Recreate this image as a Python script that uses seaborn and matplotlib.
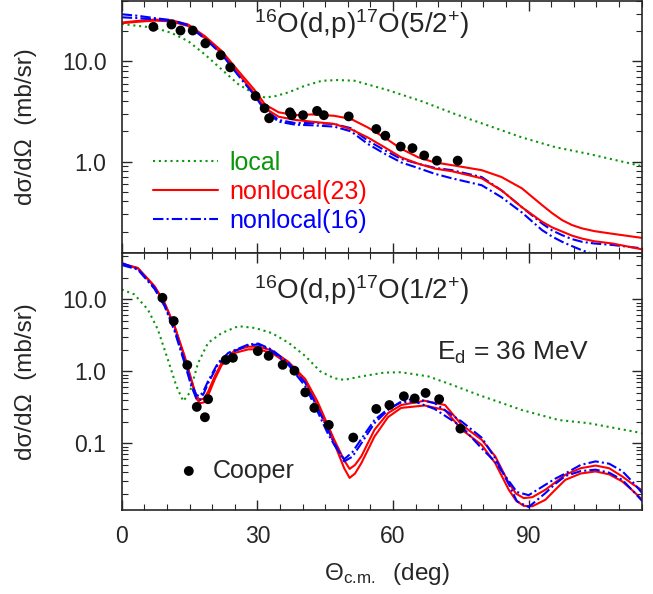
import numpy as np
import pandas as pd
import matplotlib
matplotlib.use("Agg")
import matplotlib.pyplot as plt
import seaborn as sns
from matplotlib.ticker import FixedLocator, FuncFormatter, LogLocator, MultipleLocator, NullFormatter

# ---------------- data: 16O(d,p)17O(5/2+) ----------------
top_exp_deg = [7.0, 11.0, 13.0, 15.7, 18.5, 21.9, 24.0, 29.6, 31.6, 32.6, 37.2, 37.6,
               40.1, 43.2, 44.7, 50.2, 56.3, 58.3, 61.7, 64.3, 66.9, 69.7, 74.3]
top_exp_xs = [22.1, 23.3, 20.3, 20.3, 15.1, 11.5, 8.7, 4.5, 3.4, 2.7, 3.1, 2.9,
              2.9, 3.2, 2.9, 2.82, 2.11, 1.81, 1.41, 1.36, 1.15, 1.02, 1.02]

top_local_deg = [0, 7.3, 11, 14.7, 18.4, 22.1, 25.8, 29.5, 31.7, 34, 36.9, 40.5, 44.3,
                 47.8, 51.5, 58.9, 66.3, 73.7, 81.1, 88.5, 95.9, 103.3, 115]
top_local_xs = [23.6, 21.6, 19.2, 15.9, 11.7, 8.3, 5.9, 4.7, 4.35, 4.5, 4.9, 5.7, 6.4,
                6.5, 6.4, 5.15, 4.0, 2.98, 2.28, 1.74, 1.39, 1.19, 0.90]

top_nl_deg = [0, 3.5, 7.3, 11, 14.7, 18.4, 22.1, 25.8, 29.5, 31.7, 34.7, 38.4, 42, 47,
              50.7, 54.4, 58.1, 61.8, 65.6, 69.2, 73, 79.6, 84, 88.5, 93, 95.2, 97.4,
              99.6, 101.8, 104.5, 108.5, 115]
top_nl23_a = [24.4, 25.3, 26.1, 25.7, 23.3, 17.8, 12.7, 8.0, 5.1, 3.7, 3.1, 2.9, 2.95,
              2.86, 2.66, 2.19, 1.74, 1.34, 1.1, 0.98, 0.92, 0.82, 0.70, 0.54, 0.366,
              0.305, 0.26, 0.232, 0.215, 0.202, 0.19, 0.173]
top_nl23_b = [24.0, 24.8, 25.5, 25.0, 22.5, 17.0, 12.0, 7.5, 4.7, 3.4, 2.8, 2.6, 2.5,
              2.37, 2.1, 1.74, 1.39, 1.1, 0.95, 0.85, 0.80, 0.68, 0.515, 0.35, 0.25,
              0.22, 0.20, 0.182, 0.17, 0.16, 0.152, 0.133]
top_nl16_a = [29.5, 28.5, 27.0, 25.8, 23.0, 17.0, 12.0, 7.4, 4.6, 3.3, 2.6, 2.42, 2.42,
              2.37, 2.15, 1.62, 1.3, 1.06, 0.95, 0.865, 0.82, 0.70, 0.515, 0.35, 0.24,
              0.205, 0.184, 0.168, 0.158, 0.152, 0.147, 0.136]
top_nl16_b = [27.5, 27.0, 26.2, 25.5, 22.8, 16.8, 11.8, 7.2, 4.5, 3.2, 2.5, 2.33, 2.3,
              2.23, 2.0, 1.5, 1.2, 0.98, 0.86, 0.755, 0.68, 0.58, 0.44, 0.31, 0.206,
              0.178, 0.158, 0.143, 0.13, 0.118, 0.105, 0.09]

# ---------------- data: 16O(d,p)17O(1/2+) ----------------
bot_exp_deg = [9.0, 11.5, 14.5, 16.6, 18.4, 19.1, 23.0, 24.6, 30.1, 32.5, 35.6, 38.2,
               40.6, 42.6, 45.8, 51.2, 56.3, 59.2, 62.4, 64.8, 67.2, 70.2, 74.9]
bot_exp_xs = [10.5, 5.0, 1.22, 0.32, 0.23, 0.41, 1.44, 1.54, 1.91, 1.64, 1.23, 1.02,
              0.51, 0.31, 0.18, 0.12, 0.30, 0.34, 0.45, 0.42, 0.50, 0.41, 0.16]

bot_local_deg = [0, 2.8, 5.8, 8, 10.2, 12.1, 13.6, 15, 16.9, 19.1, 22.1, 25.8, 29.5,
                 33.2, 36.9, 40.6, 43.9, 47, 49.2, 53, 58.1, 61.8, 67.8, 73, 78.9, 88.5,
                 96.7, 103.3, 115.2]
bot_local_xs = [13.7, 11.7, 7.2, 3.8, 1.46, 0.62, 0.385, 0.5, 1.31, 2.49, 3.4, 4.24, 4.0,
                3.4, 2.49, 1.63, 1.0, 0.80, 0.76, 0.85, 0.96, 0.97, 0.85, 0.65, 0.47, 0.29,
                0.21, 0.19, 0.138]

bot_nl23_deg = [0, 3.55, 7.25, 9.5, 11.7, 13.9, 15.4, 16.5, 17.3, 18.2, 19.1, 20.6, 22.1,
                25, 28, 30.2, 33.2, 36.9, 40.6, 43.3, 47, 49.2, 50.4, 51.6, 53, 55.9, 58.9,
                61.8, 67, 71.5, 75.2, 79.6, 82.6, 85.6, 87.2, 88.9, 90.8, 93.7, 96, 98.1,
                101.5, 104.8, 107.8, 110.7, 113, 115.5]
bot_nl23_a = [31.4, 27.4, 15.3, 8.9, 4.24, 1.63, 0.77, 0.45, 0.40, 0.42, 0.52, 0.86, 1.31,
              1.95, 2.2, 2.2, 1.95, 1.35, 0.78, 0.38, 0.112, 0.058, 0.044, 0.05, 0.066,
              0.154, 0.263, 0.34, 0.39, 0.34, 0.18, 0.112, 0.066, 0.028, 0.020, 0.0173,
              0.0178, 0.0226, 0.029, 0.0365, 0.045, 0.049, 0.045, 0.0346, 0.027, 0.0214]
bot_nl23_b = [31.0, 27.0, 15.0, 8.7, 4.15, 1.58, 0.74, 0.42, 0.36, 0.37, 0.46, 0.78, 1.22,
              1.8, 2.02, 2.02, 1.8, 1.26, 0.72, 0.33, 0.10, 0.045, 0.033, 0.038, 0.053,
              0.124, 0.231, 0.31, 0.335, 0.29, 0.155, 0.095, 0.053, 0.0226, 0.016, 0.0135,
              0.0133, 0.0164, 0.023, 0.031, 0.038, 0.0406, 0.037, 0.0295, 0.022, 0.0156]

bot_nl16_deg = [0, 3.55, 7.25, 9.5, 11.7, 13.9, 15.4, 16.5, 17.3, 18.2, 19.1, 21.3, 23.6,
                28, 30.2, 33.2, 36.9, 40.6, 43.5, 45.5, 47, 49.2, 51, 53, 55.9, 58.9, 61.8,
                64.8, 69.2, 75.2, 79.6, 82.6, 85.6, 87.4, 90, 93.7, 95.8, 98.1, 101.5,
                104.8, 107.8, 110.7, 113, 115.5]
bot_nl16_a = [32, 26.5, 14.5, 8.3, 3.8, 1.4, 0.68, 0.47, 0.45, 0.55, 0.73, 1.31, 1.81,
              2.36, 2.43, 2.0, 1.3, 0.69, 0.295, 0.16, 0.10, 0.056, 0.065, 0.10, 0.19,
              0.29, 0.38, 0.42, 0.36, 0.2, 0.12, 0.062, 0.027, 0.0156, 0.013, 0.0203,
              0.027, 0.035, 0.041, 0.043, 0.039, 0.031, 0.022, 0.0148]
bot_nl16_b = [30, 26, 14.0, 8.0, 3.6, 1.3, 0.62, 0.42, 0.4, 0.5, 0.68, 1.25, 1.75,
              2.3, 2.36, 1.92, 1.22, 0.62, 0.26, 0.14, 0.095, 0.06, 0.075, 0.115, 0.21,
              0.3, 0.37, 0.38, 0.3, 0.17, 0.085, 0.055, 0.03, 0.021, 0.019, 0.0265,
              0.032, 0.038, 0.05, 0.056, 0.052, 0.041, 0.029, 0.019]

# ---------------- style ----------------
sns.set_style("ticks")
plt.rcParams["font.family"] = ["Liberation Sans", "DejaVu Sans"]
plt.rcParams["mathtext.fontset"] = "custom"
plt.rcParams["mathtext.rm"] = "Liberation Sans"
plt.rcParams["mathtext.it"] = "Liberation Sans:italic"

GREEN = "#0a960a"
RED = "#ff0000"
BLUE = "#0000ff"
DOT = (0, (1, 1.8))
DASHDOT = (0, (5, 1.5, 1, 1.5))

fig = plt.figure(figsize=(6.53, 5.94), dpi=100)
ax1 = fig.add_axes([0.1864, 0.574, 0.7963, 0.4243])
ax2 = fig.add_axes([0.1864, 0.1422, 0.7963, 0.4318])


def draw_curve(ax, x, y, color, ls, label=None):
    sns.lineplot(x=x, y=y, ax=ax, color=color, linestyle=ls, lw=1.5,
                 sort=False, estimator=None, label=label, legend=False)


def fmt(v, pos):
    return {0.1: "0.1", 1.0: "1.0", 10.0: "10.0"}.get(round(v, 3), "")


# top panel
draw_curve(ax1, top_local_deg, top_local_xs, GREEN, DOT, "local")
draw_curve(ax1, top_nl_deg, top_nl23_a, RED, "-", "nonlocal(23)")
draw_curve(ax1, top_nl_deg, top_nl16_a, BLUE, DASHDOT, "nonlocal(16)")
draw_curve(ax1, top_nl_deg, top_nl23_b, RED, "-")
draw_curve(ax1, top_nl_deg, top_nl16_b, BLUE, DASHDOT)
sns.scatterplot(x=top_exp_deg, y=top_exp_xs, ax=ax1, color="black", s=50,
                edgecolor="none", zorder=5)

# bottom panel
draw_curve(ax2, bot_local_deg, bot_local_xs, GREEN, DOT)
draw_curve(ax2, bot_nl23_deg, bot_nl23_a, RED, "-")
draw_curve(ax2, bot_nl23_deg, bot_nl23_b, RED, "-")
draw_curve(ax2, bot_nl16_deg, bot_nl16_a, BLUE, DASHDOT)
draw_curve(ax2, bot_nl16_deg, bot_nl16_b, BLUE, DASHDOT)
sns.scatterplot(x=bot_exp_deg, y=bot_exp_xs, ax=ax2, color="black", s=50,
                edgecolor="none", zorder=5, label="Cooper")

for ax, ylim in [(ax1, (0.122, 40)), (ax2, (0.012, 44))]:
    ax.set_yscale("log")
    ax.set_xlim(0, 115)
    ax.set_ylim(*ylim)
    ax.xaxis.set_major_locator(MultipleLocator(30))
    ax.xaxis.set_minor_locator(MultipleLocator(5))
    ax.yaxis.set_major_locator(FixedLocator([0.1, 1.0, 10.0]))
    ax.yaxis.set_major_formatter(FuncFormatter(fmt))
    ax.yaxis.set_minor_locator(LogLocator(base=10, subs=np.arange(2, 10)))
    ax.yaxis.set_minor_formatter(NullFormatter())
    ax.tick_params(which="both", direction="in", top=True, right=True, labelsize=16.5)
    ax.tick_params(which="major", length=7, width=1, pad=11)
    ax.tick_params(which="minor", length=4, width=0.8)
    for sp in ax.spines.values():
        sp.set_linewidth(1.2)
    ax.set_ylabel("d\u03c3/d\u03a9  (mb/sr)", fontsize=17.5)
    ax.yaxis.set_label_coords(-0.163, 0.5)
    ax.set_xlabel("")

ax1.tick_params(labelbottom=False)
ax2.set_xlabel(r"$\Theta_{\mathrm{c.\!m.}}$  (deg)", fontsize=17.5)
ax2.xaxis.set_label_coords(0.51, -0.2)

ax1.text(0.462, 0.91, r"$^{16}$O(d,p)$^{17}$O(5/2$^{+}$)", transform=ax1.transAxes,
         ha="center", va="center", fontsize=20)
ax2.text(0.462, 0.855, r"$^{16}$O(d,p)$^{17}$O(1/2$^{+}$)", transform=ax2.transAxes,
         ha="center", va="center", fontsize=20)
ax2.text(0.752, 0.61, r"E$_{\rm d}$ = 36 MeV", transform=ax2.transAxes,
         ha="center", va="center", fontsize=19)

ax1.legend(loc="upper left", bbox_to_anchor=(0.06, 0.405), frameon=False, fontsize=18,
           handlelength=2.6, handletextpad=0.45, labelspacing=0.2, borderpad=0,
           borderaxespad=0, labelcolor="linecolor")
ax2.legend(loc="center left", bbox_to_anchor=(0.105, 0.152), frameon=False, fontsize=18,
           handlelength=1, handletextpad=0.45, borderpad=0, borderaxespad=0)

fig.savefig("out.png", dpi=100)
